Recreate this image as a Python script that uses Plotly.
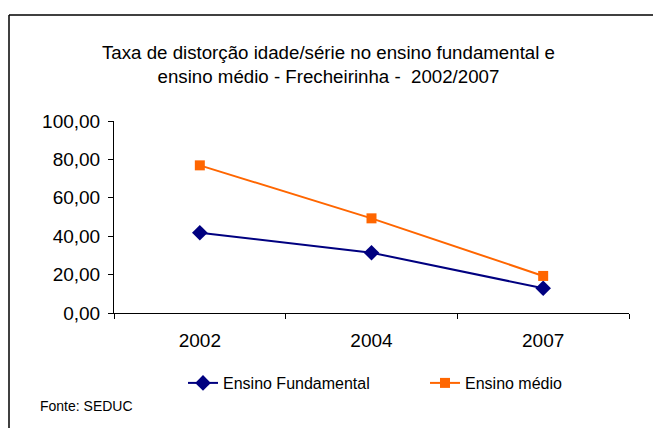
import plotly.graph_objects as go

years = ["2002", "2004", "2007"]
fundamental = [41.8, 31.4, 12.9]
medio = [76.9, 49.3, 19.3]
y_ticks = [0, 20, 40, 60, 80, 100]

W, H = 653, 428
L, R, T, B = 114, 629, 121, 313

fig = go.Figure()
fig.add_trace(go.Scatter(
    x=years, y=fundamental, name="Ensino Fundamental", mode="lines+markers",
    line=dict(color="#000080", width=2),
    marker=dict(symbol="diamond", size=12, color="#000080"),
    legend="legend",
))
fig.add_trace(go.Scatter(
    x=years, y=medio, name="Ensino médio", mode="lines+markers",
    line=dict(color="#FF6600", width=2),
    marker=dict(symbol="square", size=10, color="#FF6600"),
    legend="legend2",
))

def px_x(p):
    return (p - L) / (R - L)

def px_y(p):
    return (B - p) / (B - T)

leg_common = dict(orientation="h", xanchor="left", yanchor="middle",
                  font=dict(size=16), itemwidth=30, bgcolor="rgba(0,0,0,0)")

border = dict(color="black", width=1.5)

fig.update_layout(
    width=W, height=H,
    margin=dict(l=L, r=W - R, t=T, b=H - B, pad=0),
    paper_bgcolor="white", plot_bgcolor="white",
    font=dict(family="Liberation Sans, Arial, sans-serif", color="black", size=19),
    separators=", ",
    showlegend=True,
    legend=dict(x=px_x(223 - 40), y=px_y(383), **leg_common),
    legend2=dict(x=px_x(465 - 40), y=px_y(383), **leg_common),
    xaxis=dict(
        type="category", range=[-0.5, 2.5], showline=True, linecolor="black", linewidth=1,
        ticks="outside", ticklen=5, tickcolor="black", tickson="boundaries",
        showgrid=False, tickfont=dict(size=19), zeroline=False, ticklabelstandoff=10,
    ),
    yaxis=dict(
        range=[0, 100], tickvals=y_ticks, tickformat=".2f",
        showline=True, linecolor="black", linewidth=1,
        ticks="outside", ticklen=5, tickcolor="black",
        showgrid=False, zeroline=False, tickfont=dict(size=19), ticklabelstandoff=4,
    ),
    shapes=[
        dict(type="line", xref="paper", yref="paper",
             x0=px_x(9), x1=px_x(700), y0=px_y(15), y1=px_y(15), line=border, layer="below"),
        dict(type="line", xref="paper", yref="paper",
             x0=px_x(9), x1=px_x(9), y0=px_y(15), y1=px_y(480), line=border, layer="below"),
    ],
    annotations=[
        dict(text="Taxa de distorção idade/série no ensino fundamental e<br>ensino médio - Frecheirinha -  2002/2007",
             xref="paper", yref="paper", x=px_x(328), y=px_y(65), xanchor="center", yanchor="middle",
             showarrow=False, font=dict(size=18.7), align="center"),
        dict(text="Fonte: SEDUC", xref="paper", yref="paper", x=px_x(38), y=px_y(406),
             xanchor="left", yanchor="middle", showarrow=False, font=dict(size=14)),
    ],
)

fig.write_html(
    "out.html",
    config={"displayModeBar": False},
    post_script="document.body.style.margin='0';document.body.style.overflow='hidden';",
)
